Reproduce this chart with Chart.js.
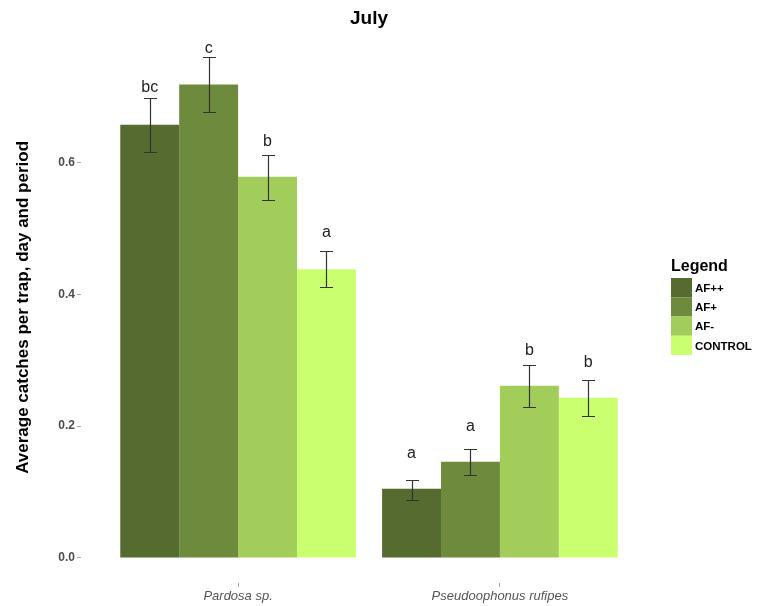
<!DOCTYPE html>
<html>
<head>
<meta charset="utf-8">
<script src="https://cdn.jsdelivr.net/npm/chart.js@4"></script>
<style>
  body { margin: 0; background: #fff; }
  canvas { display: block; }
</style>
</head>
<body>
<canvas id="julyChart" width="762" height="606"></canvas>
<script>
const categories = ['Pardosa sp.', 'Pseudoophonus rufipes'];
const series = ['AF++', 'AF+', 'AF-', 'CONTROL'];
const colors = ['#556b2f', '#6e8b3d', '#a2cd5a', '#caff70'];

// means per series (Pardosa, Pseudoophonus)
const afpp = [0.657, 0.105];
const afp = [0.718, 0.146];
const afm = [0.578, 0.261];
const control = [0.438, 0.243];

// error bar limits
const afppLow = [0.616, 0.088], afppHigh = [0.698, 0.118];
const afpLow = [0.677, 0.126], afpHigh = [0.760, 0.165];
const afmLow = [0.543, 0.229], afmHigh = [0.611, 0.293];
const controlLow = [0.411, 0.215], controlHigh = [0.466, 0.270];

// significance letters and where they sit
const afppLetters = ['bc', 'a'], afppLetterY = [0.706, 0.152];
const afpLetters = ['c', 'a'], afpLetterY = [0.766, 0.193];
const afmLetters = ['b', 'b'], afmLetterY = [0.625, 0.308];
const controlLetters = ['a', 'b'], controlLetterY = [0.487, 0.290];

const yTicks = [0, 0.2, 0.4, 0.6];

const means = [afpp, afp, afm, control];
const lows = [afppLow, afpLow, afmLow, controlLow];
const highs = [afppHigh, afpHigh, afmHigh, controlHigh];
const letters = [afppLetters, afpLetters, afmLetters, controlLetters];
const letterY = [afppLetterY, afpLetterY, afmLetterY, controlLetterY];

const FONT = '"Liberation Sans", Arial, sans-serif';

const errorBars = {
    id: 'errorBars',
    afterDatasetsDraw(chart) {
        const ctx = chart.ctx;
        const y = chart.scales.y;
        ctx.save();
        ctx.strokeStyle = '#333';
        ctx.lineWidth = 1.2;
        ctx.fillStyle = '#222';
        ctx.font = '16px ' + FONT;
        ctx.textAlign = 'center';
        ctx.textBaseline = 'alphabetic';
        chart.data.datasets.forEach((ds, i) => {
            chart.getDatasetMeta(i).data.forEach((bar, j) => {
                const x = Math.round(bar.x) + 0.5;
                const top = Math.round(y.getPixelForValue(highs[i][j])) + 0.5;
                const bot = Math.round(y.getPixelForValue(lows[i][j])) + 0.5;
                ctx.beginPath();
                ctx.moveTo(x, top); ctx.lineTo(x, bot);
                ctx.moveTo(x - 6.5, top); ctx.lineTo(x + 6.5, top);
                ctx.moveTo(x - 6.5, bot); ctx.lineTo(x + 6.5, bot);
                ctx.stroke();
                ctx.fillText(letters[i][j], bar.x, y.getPixelForValue(letterY[i][j]));
            });
        });
        ctx.restore();
    }
};

const sideLegend = {
    id: 'sideLegend',
    afterDraw(chart) {
        const ctx = chart.ctx;
        const left = 671, top = 278, w = 21, h = 19.25;
        ctx.save();
        ctx.fillStyle = '#000';
        ctx.font = 'bold 16px ' + FONT;
        ctx.textBaseline = 'alphabetic';
        ctx.textAlign = 'left';
        ctx.fillText('Legend', 671, 271);
        ctx.font = 'bold 11.5px ' + FONT;
        ctx.textBaseline = 'middle';
        chart.data.datasets.forEach((ds, i) => {
            ctx.fillStyle = ds.backgroundColor;
            ctx.fillRect(left, top + i * h, w, h);
            ctx.fillStyle = '#000';
            ctx.fillText(ds.label, left + w + 3, top + i * h + h / 2 + 1);
        });
        ctx.restore();
    }
};

new Chart(document.getElementById('julyChart').getContext('2d'), {
    type: 'bar',
    data: {
        datasets: series.map((name, i) => ({
            label: name,
            data: means[i].map((v, j) => ({ x: j + 1, y: v })),
            backgroundColor: colors[i],
            borderWidth: 0,
            categoryPercentage: 0.9,
            barPercentage: 1
        }))
    },
    options: {
        responsive: false,
        animation: false,
        layout: { padding: { left: 0, right: 105, top: 0, bottom: 0 } },
        plugins: {
            legend: { display: false },
            tooltip: { enabled: false },
            title: {
                display: true,
                text: 'July',
                fullSize: false,
                color: '#000',
                font: { family: FONT, size: 19, weight: 'bold', lineHeight: 1.2 },
                padding: { top: 7, bottom: 2 }
            }
        },
        scales: {
            x: {
                type: 'linear',
                min: 0.4,
                max: 2.6,
                offset: false,
                afterBuildTicks(scale) { scale.ticks = [{ value: 1 }, { value: 2 }]; },
                afterFit(scale) { scale.height = 23; },
                ticks: {
                    callback: (v) => categories[v - 1],
                    color: '#555',
                    font: { family: FONT, size: 13, style: 'italic' },
                    padding: 2,
                    maxRotation: 0
                },
                grid: { offset: false, drawOnChartArea: false, drawTicks: true, tickLength: 4, color: '#aaa' },
                border: { display: false }
            },
            y: {
                min: -0.038,
                max: 0.798,
                afterBuildTicks(scale) { scale.ticks = yTicks.map(v => ({ value: v })); },
                afterFit(scale) { scale.width = 81; },
                ticks: {
                    callback: (v) => v.toFixed(1),
                    color: '#4d4d4d',
                    font: { family: FONT, size: 12, weight: 'bold' },
                    padding: 2
                },
                grid: { drawOnChartArea: false, drawTicks: true, tickLength: 4, color: '#aaa' },
                border: { display: false },
                title: {
                    display: true,
                    text: 'Average catches per trap, day and period',
                    color: '#000',
                    font: { family: FONT, size: 17, weight: 'bold' },
                    padding: { top: 13, bottom: 0 }
                }
            }
        }
    },
    plugins: [errorBars, sideLegend]
});
</script>
</body>
</html>
